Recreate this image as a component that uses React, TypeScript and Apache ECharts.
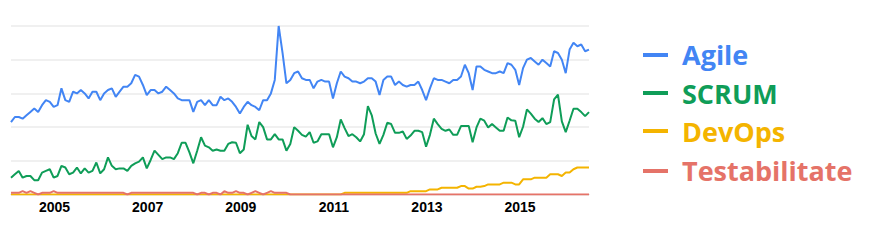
import React, { useEffect, useRef } from "react";
import * as echarts from "echarts";

const startYear = 2004;
const monthCount = 150;
const yearLabels = ["2005", "2007", "2009", "2011", "2013", "2015"];

const seriesNames = ["Agile", "SCRUM", "DevOps", "Testabilitate"];
const seriesColors = ["#4285F4", "#0F9D58", "#F4B400", "#E57368"];

const agile = [
  43, 46, 46, 45, 47, 49, 51, 49, 53, 56, 55, 52,
  53, 63, 56, 55, 61, 60, 62, 60, 57, 61, 61, 56,
  60, 62, 63, 58, 61, 64, 64, 66, 71, 70, 65, 59,
  62, 62, 60, 61, 64, 62, 60, 57, 56, 56, 56, 49,
  55, 56, 53, 56, 53, 53, 58, 56, 57, 55, 52, 48,
  52, 55, 53, 52, 50, 56, 56, 60, 68, 100, 84, 66,
  68, 72, 73, 69, 68, 68, 63, 67, 68, 67, 67, 57,
  66, 73, 70, 69, 67, 67, 66, 67, 69, 69, 67, 59,
  68, 70, 70, 65, 67, 65, 64, 65, 65, 67, 62, 56,
  63, 69, 68, 68, 67, 66, 68, 68, 70, 77, 72, 62,
  76, 76, 74, 73, 72, 72, 73, 72, 78, 77, 74, 65,
  75, 80, 81, 79, 77, 80, 78, 76, 85, 84, 80, 72,
  86, 90, 88, 89, 85, 86,
];

const scrum = [
  10, 12, 14, 10, 11, 11, 8.5, 8.5, 13, 14, 15, 10,
  11, 17, 16, 12, 13, 16, 12.5, 15.5, 13, 14, 19, 12.5,
  15, 22, 17, 15, 15.5, 15.5, 14, 17, 18.5, 19.5, 22, 15.5,
  20.5, 26, 23.5, 21, 22, 22, 21, 24.5, 30.7, 30.7, 25, 18.5,
  26, 34, 29, 28, 26, 26.7, 26, 26, 30, 31, 30.7, 24.5,
  26.7, 41.4, 34.7, 32.7, 43, 40, 32.7, 32.7, 35.8, 32.7, 32.7, 26,
  30, 40, 37.8, 35.4, 34.3, 37, 30.7, 31.5, 35.8, 35.8, 35.8, 28,
  34, 44.6, 39.4, 34.7, 35.8, 34, 31.5, 35.8, 52.5, 47, 36.2, 30,
  35.4, 42.6, 41.8, 36.6, 36.6, 37.4, 33, 35, 37.8, 37.8, 37, 28.3,
  35.4, 45, 41.8, 39, 37.8, 38.6, 35.4, 35.4, 40.6, 40.6, 40.6, 31,
  39.8, 45, 43.8, 39.8, 41.8, 39.8, 37.8, 37.8, 45.7, 44, 43.8, 34,
  40.2, 50.5, 48, 45, 43, 45.3, 41.8, 43, 56.4, 59.2, 43.4, 37,
  43.8, 50.9, 50.9, 48.9, 46.5, 48.9,
];

const devops = [
  0, 0, 0, 0, 0, 0, 0, 0, 0, 0, 0, 0,
  0, 0, 0, 0, 0, 0, 0, 0, 0, 0, 0, 0,
  0, 0, 0, 0, 0, 0, 0, 0, 0, 0, 0, 0,
  0, 0, 0, 0, 0, 0, 0, 0, 0, 0, 0, 0,
  0, 0, 0, 0, 0, 0, 0, 0, 0, 0, 0, 0,
  0, 0, 0, 0, 0, 0, 0, 0, 0, 0, 0, 0,
  0, 0, 0, 0, 0, 0, 0, 0, 0, 0, 0, 0,
  0, 0, 1, 1, 1, 1, 1, 1, 1, 1, 1, 1,
  1, 1, 1, 1, 1, 1, 1, 2, 2, 2, 2, 2,
  3, 3, 3, 4, 4, 4, 4, 4, 5, 5, 3.5, 3.5,
  4.6, 4.6, 5, 6, 6, 6, 6, 7, 7, 7, 6, 6,
  9, 9, 9, 10, 10, 10, 10, 12, 12, 12, 11, 13,
  13, 15, 16, 16, 16, 16,
];

const testabilitate = [
  1, 1, 1, 2, 1, 2, 1, 0, 1, 1, 1, 2,
  1, 1, 1, 1, 1, 1, 1, 1, 1, 1, 1, 1,
  1, 1, 1, 1, 1, 1, 0, 1, 1, 1, 1, 1,
  1, 1, 1, 1, 1, 1, 1, 1, 1, 1, 1, 1,
  0, 1, 1, 0, 1, 1, 0, 2, 1, 1, 2, 1,
  1, 0, 1, 2, 1, 0, 1, 2, 1, 1, 1, 1,
  0, 0, 0, 0, 0, 0, 0, 0, 0, 0, 0, 0,
  0, 0, 0, 0, 0, 0, 0, 0, 0, 0, 0, 0,
  0, 0, 0, 0, 0, 0, 0, 0, 0, 0, 0, 0,
  0, 0, 0, 0, 0, 0, 0, 0, 0, 0, 0, 0,
  0, 0, 0, 0, 0, 0, 0, 0, 0, 0, 0, 0,
  0, 0, 0, 0, 0, 0, 0, 0, 0, 0, 0, 0,
  0, 0, 0, 0, 0, 0,
];

const seriesData = [agile, scrum, devops, testabilitate];

const months: string[] = [];
for (let i = 0; i < monthCount; i++) {
  const y = startYear + Math.floor(i / 12);
  const m = (i % 12) + 1;
  months.push(`${y}-${m < 10 ? "0" + m : m}`);
}

const legendTextTops = [41, 80, 117.5, 156.5];
const legendBarCenters = [55, 93, 131, 171];

export default function App() {
  const ref = useRef<HTMLDivElement>(null);
  useEffect(() => {
    if (!ref.current) return;
    const chart = echarts.init(ref.current, null, { renderer: "svg" });
    const graphics: any[] = [];
    seriesNames.forEach((name, k) => {
      graphics.push({
        type: "rect",
        shape: { x: 643, y: legendBarCenters[k] - 2, width: 25, height: 4 },
        style: { fill: seriesColors[k] },
      });
      graphics.push({
        type: "text",
        x: 682,
        y: legendTextTops[k],
        style: {
          text: name,
          fill: seriesColors[k],
          font: "bold 27px 'Comic Sans MS', 'Open Sans', sans-serif",
          verticalAlign: "top",
        },
      });
    });
    chart.setOption({
      animation: false,
      grid: { left: 11, top: 26, width: 578, height: 168.5 },
      xAxis: {
        type: "category",
        boundaryGap: false,
        data: months,
        axisLine: { lineStyle: { color: "#c8c8c8", width: 1 } },
        axisTick: { show: false },
        splitLine: { show: false },
        axisLabel: {
          interval: (idx: number, val: string) => yearLabels.indexOf(val.slice(0, 4)) >= 0 && val.slice(5) === "01",
          formatter: (val: string) => val.slice(0, 4),
          color: "#000",
          fontWeight: "bold",
          fontSize: 14,
          fontFamily: "'Liberation Sans', Arial, sans-serif",
          margin: 5,
          padding: [0, 6, 0, 0],
        },
      },
      yAxis: {
        type: "value",
        min: 0,
        max: 100,
        interval: 20,
        axisLine: { show: false },
        axisTick: { show: false },
        axisLabel: { show: false },
        splitLine: { lineStyle: { color: "#f0f0f0", width: 2 } },
      },
      series: seriesNames.map((name, k) => ({
        name,
        type: "line",
        data: seriesData[k],
        showSymbol: false,
        symbol: "none",
        lineStyle: { color: seriesColors[k], width: 2 },
        itemStyle: { color: seriesColors[k] },
      })),
      graphic: graphics,
    });
    return () => chart.dispose();
  }, []);
  return (
    <div
      ref={ref}
      style={{ position: "absolute", left: 0, top: 0, width: 884, height: 244, background: "#fff" }}
    />
  );
}
